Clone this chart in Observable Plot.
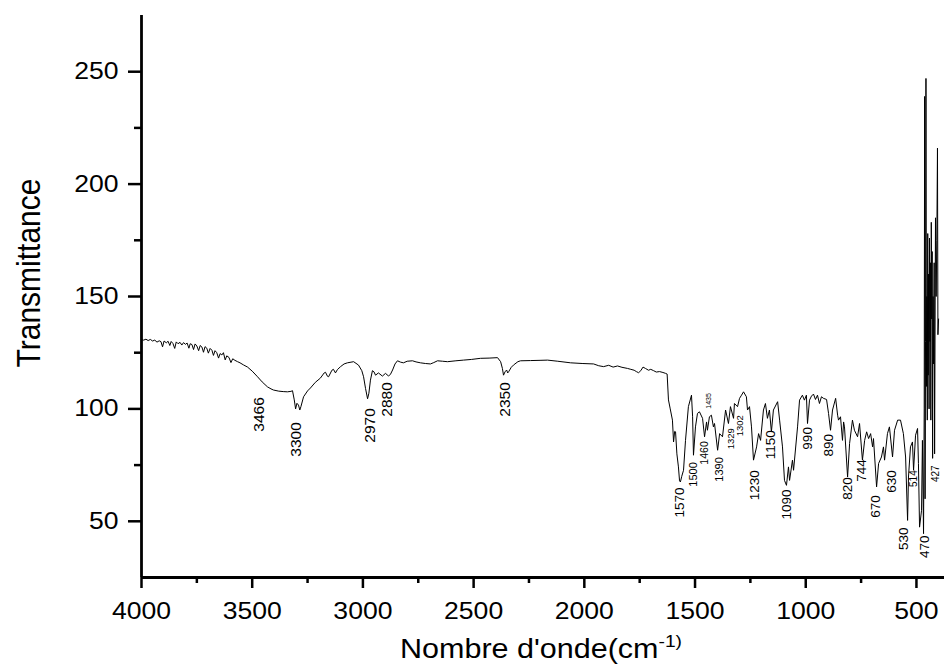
<!DOCTYPE html>
<html><head><meta charset="utf-8">
<script src="https://cdn.jsdelivr.net/npm/d3@7"></script>
<script src="https://cdn.jsdelivr.net/npm/@observablehq/plot@0.6"></script>
<style>
body{margin:0;background:#fff}
#chart svg{font-family:"Liberation Sans",Arial,sans-serif;overflow:visible}
</style>
</head><body><div id="chart"></div>
<script>
// ---- data ----
const wavenumber = [4000,3990,3980,3970,3960,3950,3940,3930,3920,3912,3905,3898,3888,3880,3872,3866,3858,3850,3843,3835,3826,3818,3810,3802,3794,3786,3780,3772,3765,3758,3750,3742,3735,3727,3720,3713,3705,3698,3690,3682,3675,3668,3660,3652,3645,3637,3630,3622,3615,3605,3596,3588,3578,3566,3555,3540,3521,3500,3476,3455,3431,3415,3404,3380,3360,3341,3325,3318,3310,3304,3298,3291,3285,3280,3268,3250,3237,3215,3192,3175,3169,3160,3155,3140,3133,3124,3115,3101,3085,3070,3042,3020,3005,2997,2988,2979,2973,2966,2957,2950,2943,2930,2912,2898,2884,2875,2866,2855,2844,2830,2817,2800,2776,2760,2740,2718,2695,2680,2663,2640,2618,2580,2546,2510,2469,2430,2392,2378,2370,2365,2358,2351,2346,2342,2330,2320,2300,2288,2243,2200,2166,2120,2062,2010,1958,1935,1913,1890,1870,1850,1830,1805,1790,1775,1765,1755,1745,1735,1724,1710,1700,1687,1675,1660,1645,1633,1626,1620,1612,1602,1597,1592,1588,1582,1575,1570,1566,1560,1552,1543,1530,1516,1511,1507,1498,1489,1480,1466,1457,1448,1444,1435,1426,1417,1412,1398,1389,1376,1362,1349,1340,1326,1322,1308,1299,1290,1281,1268,1263,1254,1245,1236,1222,1213,1204,1191,1182,1173,1164,1155,1146,1127,1118,1105,1096,1087,1078,1073,1060,1055,1037,1028,1015,1006,997,992,983,974,965,956,947,938,929,920,906,897,888,879,865,856,852,843,834,829,825,811,802,789,780,766,757,744,734,725,716,707,698,694,680,671,658,649,644,631,622,608,599,585,572,559,549,540,536,527,518,513,504,495,491,486,477,473,468,465,463,461,459,457,455,453,451,449,447,445,443,441,439,437,435,433,431,429,427,425,423,420,418,414,411,408,405,403,400];
const transmittance = [130.8,130.6,131.0,130.4,130.9,130.2,130.6,129.7,130.3,129.9,127.6,130.2,129.4,130.1,128.2,130.0,129.1,126.9,129.8,129.0,129.6,128.4,129.5,128.7,129.3,127.0,129.0,128.6,126.4,128.9,128.0,125.9,128.2,127.5,125.2,127.7,127.0,124.8,126.9,126.1,123.8,125.9,125.0,122.6,124.6,124.0,125.0,121.8,123.6,122.9,120.6,122.3,121.6,121.0,120.5,119.6,118.6,116.8,114.3,112.0,109.8,108.9,108.4,107.9,107.7,107.6,107.8,108.1,104.0,100.0,102.5,101.7,99.5,101.0,105.4,108.0,109.3,111.8,113.7,116.0,116.3,114.5,114.3,117.2,117.6,116.0,117.5,118.8,120.0,120.5,121.0,119.5,117.0,114.3,109.0,104.5,107.0,112.8,117.0,116.5,115.0,116.0,114.6,115.8,114.6,115.5,117.3,120.0,121.4,120.8,120.5,121.2,121.4,120.9,120.5,120.2,120.0,120.6,121.4,121.2,121.0,121.4,121.7,122.0,122.5,122.6,122.8,121.0,118.0,115.0,116.5,117.3,116.0,116.5,118.5,119.5,121.0,121.4,121.5,121.6,121.7,121.2,120.5,120.2,120.0,119.2,118.8,119.4,118.6,119.1,118.5,118.0,117.6,117.2,116.6,116.1,117.0,118.6,118.0,117.2,117.6,117.0,116.4,116.6,116.2,115.8,115.5,104.0,100.0,95.0,85.3,90.0,89.8,80.0,74.2,68.0,67.5,70.0,72.7,86.0,101.0,106.1,96.5,79.4,92.0,98.0,98.7,95.8,87.6,94.2,90.5,96.5,97.2,92.0,93.5,81.6,89.0,87.6,99.5,93.5,101.0,95.8,102.4,101.0,104.7,106.1,107.6,105.4,99.5,101.0,92.0,77.2,83.1,89.0,86.0,99.5,102.4,95.8,99.5,89.8,99.5,103.2,95.0,83.1,68.2,66.0,74.2,68.2,77.2,72.7,92.0,103.9,106.1,103.9,106.1,93.5,103.9,105.7,106.6,104.2,106.1,102.4,105.4,104.7,104.2,98.0,90.5,99.5,104.7,97.2,95.0,96.5,86.0,94.2,92.0,69.7,84.6,95.0,90.5,87.6,93.5,77.2,86.0,89.8,86.8,89.0,83.1,86.8,65.3,75.7,78.6,83.1,77.2,89.0,92.0,78.6,90.5,95.0,95.0,89.0,78.6,50.4,69.7,83.1,85.3,72.7,88.3,91.3,75.7,47.4,54.9,86.0,44.5,100,239,60,130,247,110,150,95,178,115,160,100,176,130,165,95,183,140,170,78,150,120,165,80,185,150,175,216,133,140];

const peakText = ["3466","3300","2970","2880","2350","1570","1500","1460","1435","1390","1329","1302","1230","1150","1090","990","890","820","744","670","630","514","530","470","427"];
const peakWn   = [3471,3300,2966,2889,2360,1570,1507,1457,1439,1389,1340,1299,1232,1159,1087,992,897,811,748,685,612,513,558,463,414];
const peakT    = [105.2,94.1,100.3,111.9,111.9,65.1,76.3,85.6,107.0,78.5,91.4,97.2,72.7,90.5,64.2,91.9,88.8,69.6,77.6,61.6,72.7,72.7,47.3,43.7,74.9];

const xMajor = [4000,3500,3000,2500,2000,1500,1000,500];
const xMinor = [3750,3250,2750,2250,1750,1250,750];
const yMajor = [50,100,150,200,250];
const yMinor = [75,125,175,225];

// ---- rendering ----
const spectrum = wavenumber.map((w, i) => ({w, t: transmittance[i]}));
const peaks = peakText.map((s, i) => ({s, w: peakWn[i], t: peakT[i]}));
const labelSize = s => ({"3466":15.5,"3300":15.5,"2970":15.5,"2880":15.5,"2350":15.5,
  "1500":11,"1460":10.5,"1390":11,"514":10,"427":10,"1329":9.5,"1302":9.5,"1435":7})[s] || 13.5;

const plot = Plot.plot({
  width: 944, height: 670,
  marginLeft: 141, marginRight: 0, marginTop: 15, marginBottom: 93,
  style: {fontFamily: "Liberation Sans, Arial, sans-serif", background: "white", color: "black"},
  x: {domain: [4000, 373.3], label: null},
  y: {domain: [25, 275], label: null},
  marks: [
    Plot.axisX(xMajor, {anchor: "bottom", tickSize: 11, tickPadding: 14, fontSize: 23.5, strokeWidth: 2.5, tickFormat: d => String(d), label: null}),
    Plot.axisX(xMinor, {anchor: "bottom", tickSize: 6, strokeWidth: 2.5, tickFormat: () => "", label: null}),
    Plot.axisY(yMajor, {anchor: "left", tickSize: 13, tickPadding: 10, fontSize: 23.5, strokeWidth: 2.5, tickFormat: d => String(d), label: null}),
    Plot.axisY(yMinor, {anchor: "left", tickSize: 7, strokeWidth: 2.5, tickFormat: () => "", label: null}),
    Plot.line(spectrum, {x: "w", y: "t", stroke: "black", strokeWidth: 1}),
    Plot.text(peaks, {x: "w", y: "t", text: "s", rotate: -90, textAnchor: "end", fontSize: d => labelSize(d.s), fill: "black", ariaLabel: "peak-labels"}),
    Plot.ruleY([25], {strokeWidth: 2.8, stroke: "black"}),
    Plot.ruleX([4000], {strokeWidth: 2.8, stroke: "black"})
  ]
});
document.getElementById("chart").appendChild(plot);

const svg = d3.select(plot);
// horizontal widening of axis numbers as in the reference
svg.selectAll('g[aria-label$="tick label"] text').each(function() {
  const txt = this.textContent;
  if (!txt) return;
  const len = this.getComputedTextLength();
  this.setAttribute("textLength", (len * 1.13).toFixed(1));
  this.setAttribute("lengthAdjust", "spacingAndGlyphs");
});
// same widening for the rotated peak labels (local y axis maps to screen x)
svg.selectAll('g[aria-label="peak-labels"] text').each(function() {
  const tr = this.getAttribute("transform");
  if (tr) this.setAttribute("transform", tr + " scale(1,1.13)");
});

svg.append("text")
  .attr("transform", "translate(40,273) scale(1.13,1) rotate(-90)")
  .attr("text-anchor", "middle")
  .attr("font-size", 30)
  .attr("fill", "black")
  .text("Transmittance");

const xt = svg.append("text")
  .attr("x", 541).attr("y", 658)
  .attr("text-anchor", "middle")
  .attr("font-size", 27)
  .attr("fill", "black");
xt.append("tspan").text("Nombre d'onde(cm");
xt.append("tspan").attr("font-size", 17).attr("dy", -11).text("-1)");
const xl = xt.node().getComputedTextLength();
xt.attr("textLength", (xl * 1.13).toFixed(1)).attr("lengthAdjust", "spacingAndGlyphs");
</script>
</body></html>
